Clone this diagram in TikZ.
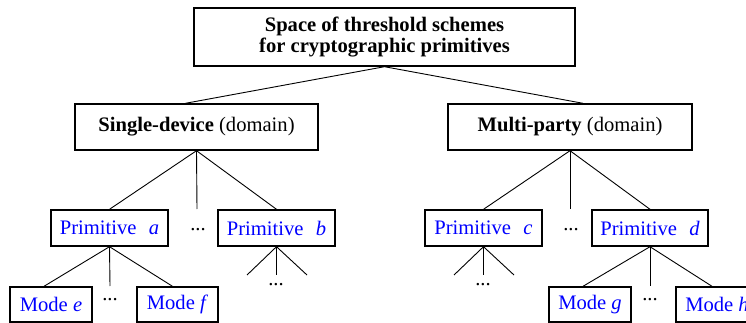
\documentclass[tikz,border=0pt]{standalone}
\usepackage{fontspec}
\setmainfont{Liberation Serif}
\begin{document}
\begin{tikzpicture}[x=1pt,y=-1pt,
  box/.style={draw, line width=1.4pt, inner sep=0pt, align=center,
              font=\fontsize{20.6}{21}\selectfont},
  prim/.style={box, text=blue, minimum width=117pt, minimum height=36pt},
  mode/.style={box, text=blue, minimum width=82pt, minimum height=35pt},
  link/.style={line width=0.9pt},
  more/.style={inner sep=0pt, anchor=base, font=\fontsize{20.6}{21}\selectfont}]
\useasboundingbox (0,0) rectangle (746,323);

% root and the two domains
\node[box, minimum width=381pt, minimum height=58pt] (root) at (384.5,37)
  {\textbf{Space of threshold schemes}\\\textbf{for cryptographic primitives}};
\node[box, minimum width=243pt, minimum height=46pt] (sd) at (196.5,127)
  {\textbf{Single-device} (domain)};
\node[box, minimum width=244pt, minimum height=46pt] (mp) at (570,127)
  {\textbf{Multi-party} (domain)};

% primitives
\node[prim] (pa) at (109.5,228) {Primitive\hspace{0.6em}\textit{a}};
\node[prim] (pb) at (276.5,228) {Primitive\hspace{0.6em}\textit{b}};
\node[prim] (pc) at (483.5,228) {Primitive\hspace{0.6em}\textit{c}};
\node[prim, minimum width=116pt] (pd) at (650,228) {Primitive\hspace{0.6em}\textit{d}};

% modes
\node[mode] (me) at (51,304.5) {Mode \textit{e}};
\node[mode, minimum width=81pt] (mf) at (177.5,304.5) {Mode \textit{f}};
\node[mode] (mg) at (590,304.5) {Mode \textit{g}};
\node[mode] (mh) at (717,304.5) {Mode \textit{h}};

% elided siblings
\node[more] (d1) at (198,230) {...};
\node[more] (d2) at (571,230) {...};
\node[more] (d3) at (276,285) {...};
\node[more] (d4) at (483,285) {...};
\node[more] (d5) at (110,300) {...};
\node[more] (d6) at (650,300) {...};

% free ends of the connectors
\coordinate (sdv) at (197,209);
\coordinate (mpv) at (570,209);
\coordinate (pav) at (110,286);
\coordinate (pdv) at (650,286);
\coordinate (pbl) at (247,275);
\coordinate (pbm) at (276.5,275);
\coordinate (pbr) at (307,275);
\coordinate (pcl) at (454,275);
\coordinate (pcm) at (483.5,275);
\coordinate (pcr) at (514,275);

% connectors
\draw[link] (root.south) -- ([xshift=-11pt]sd.north);
\draw[link] (root.south) -- ([xshift=13pt]mp.north);
\draw[link] (sd.south) -- (pa.north);
\draw[link] (sd.south) -- (sdv);
\draw[link] (sd.south) -- (pb.north);
\draw[link] (mp.south) -- (pc.north);
\draw[link] (mp.south) -- (mpv);
\draw[link] (mp.south) -- (pd.north);
\draw[link] (pa.south) -- ([xshift=-7pt]me.north);
\draw[link] (pa.south) -- (pav);
\draw[link] (pa.south) -- ([xshift=-5pt]mf.north);
\draw[link] (pd.south) -- ([xshift=-7pt]mg.north);
\draw[link] (pd.south) -- (pdv);
\draw[link] (pd.south) -- ([xshift=-5pt]mh.north);
\draw[link] (pb.south) -- (pbl);
\draw[link] (pb.south) -- (pbm);
\draw[link] (pb.south) -- (pbr);
\draw[link] (pc.south) -- (pcl);
\draw[link] (pc.south) -- (pcm);
\draw[link] (pc.south) -- (pcr);
\end{tikzpicture}
\end{document}
